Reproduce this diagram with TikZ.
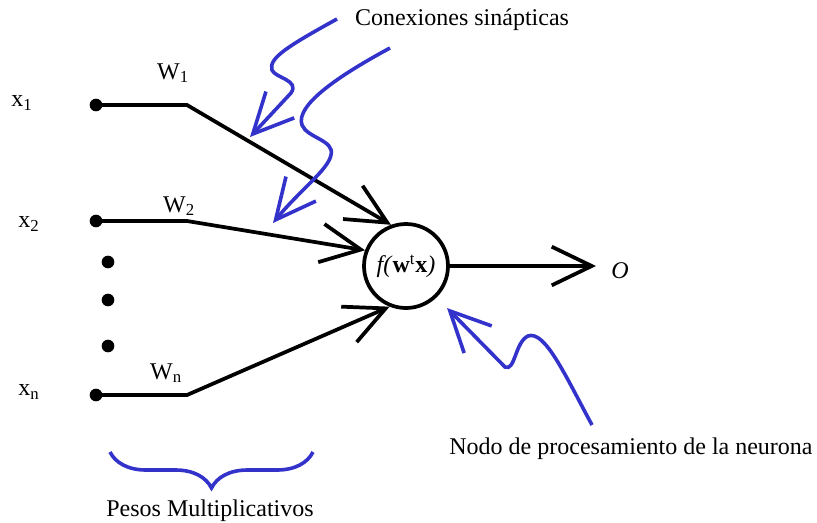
\documentclass[tikz,border=0pt]{standalone}
\usepackage{fontspec}
\setmainfont{Liberation Serif}
\usetikzlibrary{arrows.meta, decorations.pathreplacing}
\definecolor{sinblue}{HTML}{3333CC}

\begin{document}
\begin{tikzpicture}[x=0.75pt, y=-0.75pt, font=\fontsize{18}{21}\selectfont,
    wire/.style={line width=2.8pt},
    barb/.style={-{Straight Barb[length=30pt, width=29pt]}},
    note/.style={sinblue, line width=2.7pt},
    dot/.style={circle, fill, inner sep=0pt, minimum size=9.5pt}]
  \useasboundingbox (0,0) rectangle (817,522);
  % neurona
  \node[draw, circle, line width=2.8pt, minimum size=63pt, inner sep=0pt] (neuron) at (406,266)
    {\textit{f(}\textbf{w}\textsuperscript{t}\textbf{x}\textit{)}};
  % entradas y pesos
  \foreach \n/\y/\ang in {1/105/110, 2/221/159, n/395/248}{
    \node[dot] (d\n) at (96,\y) {};
    \coordinate (b\n) at (187,\y);
    \draw[wire, barb] (d\n.center) -- (b\n) -- (neuron.\ang);
  }
  \foreach \y [count=\i] in {262,300,346}
    \node[dot] (e\i) at (108,\y) {};
  \node (lx1) at (22,103) {x\textsubscript{1}};
  \node (lx2) at (29,224) {x\textsubscript{2}};
  \node (lxn) at (29,392) {x\textsubscript{n}};
  \node (lw1) at (173,73) {W\textsubscript{1}};
  \node (lw2) at (179,206) {W\textsubscript{2}};
  \node (lwn) at (166,373) {W\textsubscript{n}};
  % salida
  \coordinate (otip) at (596,266);
  \draw[wire, barb] (neuron.east) -- (otip);
  \node (out) at (620,271) {\textit{O}};
  % anotaciones
  \node (conex) at (462,20) {Conexiones sinápticas};
  \node (nodo) at (631,449) {Nodo de procesamiento de la neurona};
  \node (pesos) at (210,511) {Pesos Multiplicativos};
  \coordinate (s1) at (337,19);
  \coordinate (t1) at (250,137);
  \coordinate (s2) at (390,48);
  \coordinate (t2) at (273,223);
  \coordinate (s3) at (592,425);
  \coordinate (t3) at (447,308);
  \draw[note, barb] (s1) .. controls (290,45) and (268,58) .. (272,70)
    .. controls (275,78) and (300,80) .. (291,93) -- (t1);
  \draw[note, barb] (s2) .. controls (340,75) and (295,105) .. (302,125)
    .. controls (307,138) and (335,140) .. (331,155)
    .. controls (328,170) and (300,190) .. (t2);
  \draw[note, barb] (s3) .. controls (565,375) and (545,330) .. (528,336)
    .. controls (515,342) and (515,372) .. (505,367) -- (t3);
  \draw[note, decorate, decoration={brace, amplitude=27pt, mirror}] (110,452) -- (313,452);
\end{tikzpicture}
\end{document}
